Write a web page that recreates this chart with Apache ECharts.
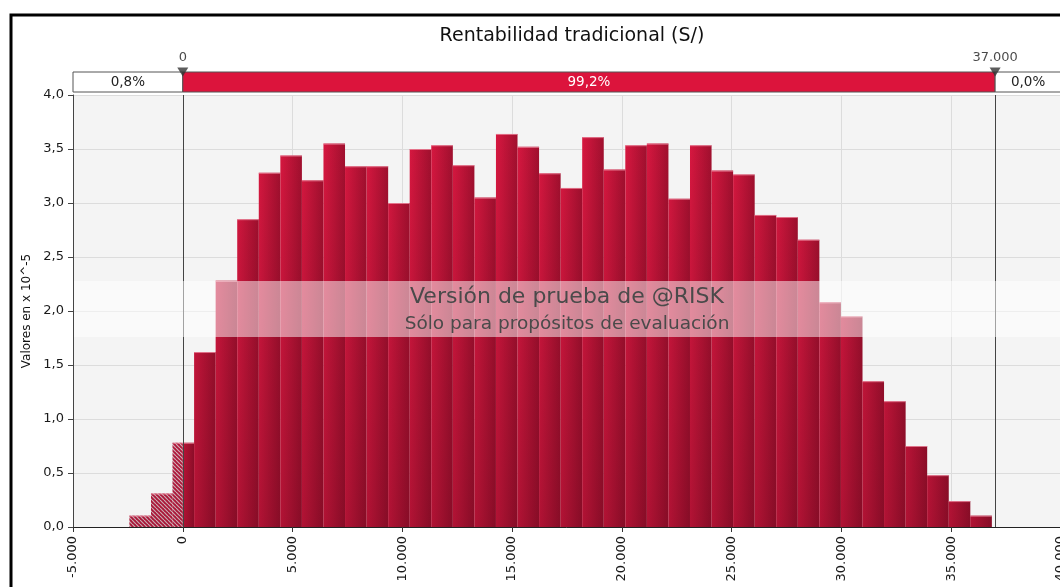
<!DOCTYPE html>
<html>
<head>
<meta charset="utf-8">
<script src="https://cdn.jsdelivr.net/npm/echarts@6/dist/echarts.min.js"></script>
<style>
  html, body { margin: 0; padding: 0; background: #fff; }
  #chart { width: 1060px; height: 587px; }
</style>
</head>
<body>
<div id="chart"></div>
<script>
// histogram: 40 bins, density in units of 10^-5
var binStart = -2430;
var binWidth = 982;
var densities = [
  0.105, 0.31, 0.78, 1.62, 2.28, 2.85, 3.28, 3.44, 3.21, 3.55,
  3.34, 3.34, 3.00, 3.50, 3.535, 3.35, 3.05, 3.64, 3.52, 3.275,
  3.14, 3.61, 3.31, 3.535, 3.55, 3.04, 3.535, 3.30, 3.265, 2.89,
  2.87, 2.66, 2.08, 1.95, 1.35, 1.165, 0.75, 0.48, 0.24, 0.105
];

// delimiters and the percentage band above the plot
var cutoffs = [0, 37000];
var cutoffLabels = ['0', '37.000'];
var bandPercents = ['0,8%', '99,2%', '0,0%'];

// axis ranges
var xMin = -5000, xMax = 40000, xStep = 5000;
var yMax = 4, yStep = 0.5;

var FONT = 'DejaVu Sans';

var histData = densities.map(function (v, i) {
  return [binStart + i * binWidth, binStart + (i + 1) * binWidth, v];
});

var bandEdges = [xMin].concat(cutoffs, [xMax]);
var bandData = bandPercents.map(function (p, i) {
  return [bandEdges[i], bandEdges[i + 1], p];
});

// hatch pattern for the part left of the first cutoff
var tile = document.createElement('canvas');
tile.width = 4; tile.height = 4;
var g = tile.getContext('2d');
g.fillStyle = '#cf1a44';
g.fillRect(0, 0, 4, 4);
g.strokeStyle = '#f7d8df';
g.lineWidth = 1.2;
[-4, 0, 4].forEach(function (k) {
  g.beginPath(); g.moveTo(k, 0); g.lineTo(k + 4, 4); g.stroke();
});
var hatch = { image: tile, repeat: 'repeat' };

function thousands(v) {
  var s = String(Math.abs(v)).replace(/\B(?=(\d{3})+(?!\d))/g, '.');
  return (v < 0 ? '-' : '') + s;
}

function renderBar(params, api) {
  var base = api.coord([api.value(0), 0]);
  var top = api.coord([api.value(1), api.value(2)]);
  var xl = base[0], xr = top[0], y0 = base[1], y1 = top[1];
  var splitX = api.coord([cutoffs[0], 0])[0];
  var plotTop = api.coord([0, yMax])[1];
  var kids = [];
  if (xl < splitX) {
    var xe = Math.min(xr, splitX);
    kids.push({ type: 'rect', shape: { x: xl, y: y1, width: xe - xl, height: y0 - y1 },
      style: { fill: hatch } });
  }
  if (xr > splitX) {
    var xs = Math.max(xl, splitX);
    kids.push({ type: 'rect', shape: { x: xs, y: y1, width: xr - xs, height: y0 - y1 },
      style: { fill: { type: 'linear', x: 0, y: 0, x2: 1, y2: 0, colorStops: [
        { offset: 0, color: '#db1841' }, { offset: 1, color: '#a3102f' }] } } });
  }
  kids.push({ type: 'rect', shape: { x: xl, y: y1, width: xr - xl, height: y0 - y1 },
    style: { fill: { type: 'linear', global: true, x: 0, y: plotTop, x2: 0, y2: y0, colorStops: [
      { offset: 0, color: 'rgba(30,0,8,0)' }, { offset: 1, color: 'rgba(30,0,8,0.22)' }] } } });
  kids.push({ type: 'line', shape: { x1: xl, y1: y1 + 0.5, x2: xr, y2: y1 + 0.5 },
    style: { stroke: 'rgba(236,140,160,0.8)', lineWidth: 1 } });
  return { type: 'group', children: kids };
}

function renderBand(params, api) {
  var p0 = api.coord([api.value(0), 1]);
  var p1 = api.coord([api.value(1), 0]);
  var mid = params.dataIndex === 1;
  return {
    type: 'rect',
    shape: { x: p0[0], y: p0[1], width: p1[0] - p0[0], height: p1[1] - p0[1] },
    style: { fill: mid ? '#dc143c' : '#ffffff', stroke: '#555', lineWidth: 1 },
    textContent: { style: { text: bandPercents[params.dataIndex], fill: mid ? '#fff' : '#222',
      font: '13.5px "' + FONT + '"' } },
    textConfig: { position: 'inside' }
  };
}

var chart = echarts.init(document.getElementById('chart'));
chart.setOption({
  animation: false,
  backgroundColor: '#fff',
  title: {
    text: 'Rentabilidad tradicional (S/)',
    left: 567, top: 22, textAlign: 'center',
    textStyle: { fontFamily: FONT, fontSize: 19, fontWeight: 'normal', color: '#111' }
  },
  grid: [
    { left: 73, top: 95, width: 988, height: 432, show: true, backgroundColor: '#f4f4f4',
      borderWidth: 0, outerBoundsMode: 'none', containLabel: false },
    { left: 73, top: 72, width: 988, height: 20, outerBoundsMode: 'none', containLabel: false }
  ],
  xAxis: [
    {
      type: 'value', gridIndex: 0, min: xMin, max: xMax, interval: xStep,
      axisLine: { show: true, lineStyle: { color: '#222', width: 1 } },
      axisTick: { show: true, length: 5, lineStyle: { color: '#333' } },
      axisLabel: { rotate: 90, margin: 9, fontFamily: FONT, fontSize: 13, color: '#1a1a1a',
        formatter: thousands },
      splitLine: { show: true, lineStyle: { color: '#dcdcdc' } }
    },
    { type: 'value', gridIndex: 1, min: xMin, max: xMax, show: false }
  ],
  yAxis: [
    {
      type: 'value', gridIndex: 0, min: 0, max: yMax, interval: yStep,
      name: 'Valores en x 10^-5', nameLocation: 'middle', nameGap: 38,
      nameTextStyle: { fontFamily: FONT, fontSize: 12, color: '#111' },
      axisLine: { show: true, onZero: false, lineStyle: { color: '#444' } },
      axisTick: { show: true, length: 5, lineStyle: { color: '#444' } },
      axisLabel: { margin: 9, fontFamily: FONT, fontSize: 13, color: '#1a1a1a',
        formatter: function (v) { return v.toFixed(1).replace('.', ','); } },
      splitLine: { show: true, lineStyle: { color: '#dcdcdc' } }
    },
    { type: 'value', gridIndex: 1, min: 0, max: 1, show: false }
  ],
  series: [
    {
      type: 'custom', xAxisIndex: 0, yAxisIndex: 0,
      renderItem: renderBar, encode: { x: [0, 1], y: 2 }, data: histData, silent: true,
      markLine: {
        silent: true, symbol: 'none', label: { show: false }, animation: false,
        lineStyle: { color: '#444', width: 1, type: 'solid' },
        data: cutoffs.map(function (c) { return { xAxis: c }; })
      }
    },
    {
      type: 'custom', xAxisIndex: 1, yAxisIndex: 1,
      renderItem: renderBand, encode: { x: [0, 1] }, data: bandData, silent: true
    },
    {
      type: 'scatter', xAxisIndex: 1, yAxisIndex: 1, silent: true, z: 5,
      symbol: 'triangle', symbolRotate: 180, symbolSize: [11, 9],
      itemStyle: { color: '#333' },
      label: { show: true, position: 'top', distance: 3, fontFamily: FONT, fontSize: 13, color: '#1a1a1a',
        formatter: function (p) { return cutoffLabels[p.dataIndex]; } },
      data: cutoffs.map(function (c) { return [c, 1]; })
    }
  ],
  graphic: [
    { type: 'rect', z: 100, silent: true, shape: { x: 11, y: 15, width: 1200, height: 800 },
      style: { fill: 'none', stroke: '#000', lineWidth: 3 } },
    { type: 'rect', z: 90, silent: true, shape: { x: 74, y: 281, width: 990, height: 56 },
      style: { fill: 'rgba(255,255,255,0.5)' } },
    { type: 'text', z: 91, silent: true, x: 567, y: 297,
      style: { text: 'Versión de prueba de @RISK', fill: '#4a4a4a', font: '22px "' + FONT + '"',
        align: 'center', verticalAlign: 'middle' } },
    { type: 'text', z: 91, silent: true, x: 567, y: 324,
      style: { text: 'Sólo para propósitos de evaluación', fill: '#4a4a4a', font: '18.5px "' + FONT + '"',
        align: 'center', verticalAlign: 'middle' } }
  ]
});
</script>
</body>
</html>
